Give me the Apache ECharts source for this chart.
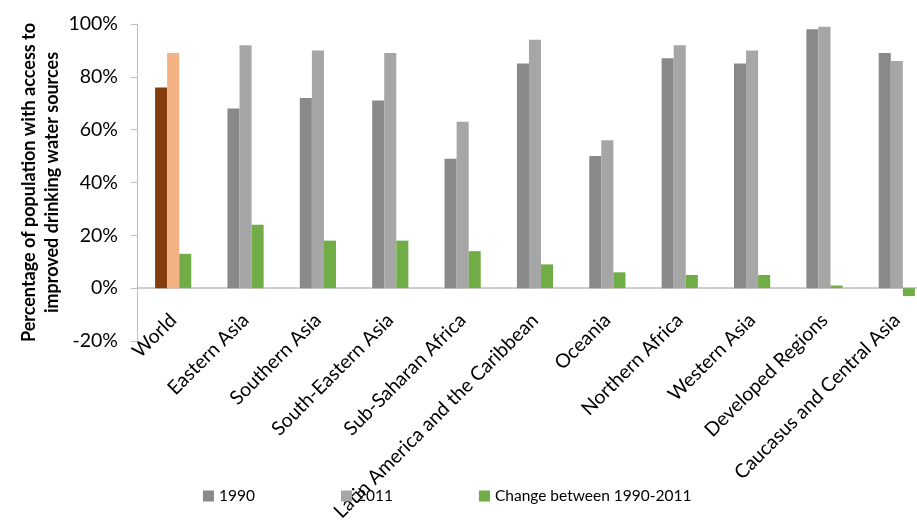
<!DOCTYPE html>
<html>
<head>
<meta charset="utf-8">
<script src="https://cdn.jsdelivr.net/npm/echarts@6/dist/echarts.min.js"></script>
<style>
  html, body { margin: 0; padding: 0; background: #fff; }
  #chart { width: 917px; height: 521px; }
</style>
</head>
<body>
<div id="chart"></div>
<script>
// regions
const regions = ['World', 'Eastern Asia', 'Southern Asia', 'South-Eastern Asia', 'Sub-Saharan Africa',
  'Latin America and the Caribbean', 'Oceania', 'Northern Africa', 'Western Asia',
  'Developed Regions', 'Caucasus and Central Asia'];
const values1990 = [76, 68, 72, 71, 49, 85, 50, 87, 85, 98, 89];
const values2011 = [89, 92, 90, 89, 63, 94, 56, 92, 90, 99, 86];
const change = [13, 24, 18, 18, 14, 9, 6, 5, 5, 1, -3];
const yTicks = [-20, 0, 20, 40, 60, 80, 100];

const font = 'Lato, "Open Sans", sans-serif';

// World gets its own colours for the two years
const withWorld = (arr, worldColor) => arr.map((v, i) =>
  i === 0 ? { value: v, itemStyle: { color: worldColor } } : v);

const chart = echarts.init(document.getElementById('chart'));

const option = {
  backgroundColor: '#ffffff',
  animation: false,
  textStyle: { fontFamily: font },
  legend: {
    bottom: 12,
    left: 198,
    itemWidth: 11,
    itemHeight: 11,
    itemGap: 86,
    icon: 'rect',
    textStyle: { fontSize: 15.5, color: '#000', fontFamily: font },
    data: ['1990', '2011', 'Change between 1990-2011']
  },
  grid: {
    left: 137,
    right: -16,
    top: 24,
    bottom: 180,
    outerBoundsMode: 'none'
  },
  xAxis: {
    type: 'category',
    data: regions,
    axisLine: { show: true, onZero: true, lineStyle: { color: '#bfbfbf', width: 1.5 } },
    axisTick: { show: false },
    axisLabel: {
      interval: 0,
      rotate: 45,
      margin: -24, // labels hang just under the 0% line
      fontSize: 19.5,
      color: '#000',
      fontFamily: font
    }
  },
  yAxis: {
    type: 'value',
    min: yTicks[0],
    max: yTicks[yTicks.length - 1],
    interval: 20,
    name: 'Percentage of population with access to\nimproved drinking water sources',
    nameLocation: 'middle',
    nameGap: 73,
    nameMoveOverlap: false,
    nameTextStyle: {
      fontSize: 18,
      fontWeight: 'bold',
      color: '#000',
      lineHeight: 23,
      fontFamily: font
    },
    axisLine: { show: true, lineStyle: { color: '#bfbfbf', width: 1 } },
    axisTick: { show: true, length: 6, lineStyle: { color: '#bfbfbf' } },
    splitLine: { show: false },
    axisLabel: {
      formatter: '{value}%',
      fontSize: 19.5,
      color: '#000',
      margin: 19,
      fontFamily: font
    }
  },
  series: [
    {
      name: '1990',
      type: 'bar',
      data: withWorld(values1990, '#843c0c'),
      itemStyle: { color: '#898989' },
      barGap: '0%',
      barCategoryGap: '50%'
    },
    {
      name: '2011',
      type: 'bar',
      data: withWorld(values2011, '#f4b183'),
      itemStyle: { color: '#a6a6a6' }
    },
    {
      name: 'Change between 1990-2011',
      type: 'bar',
      data: change,
      itemStyle: { color: '#70ad47' }
    }
  ]
};

chart.setOption(option);
</script>
</body>
</html>
